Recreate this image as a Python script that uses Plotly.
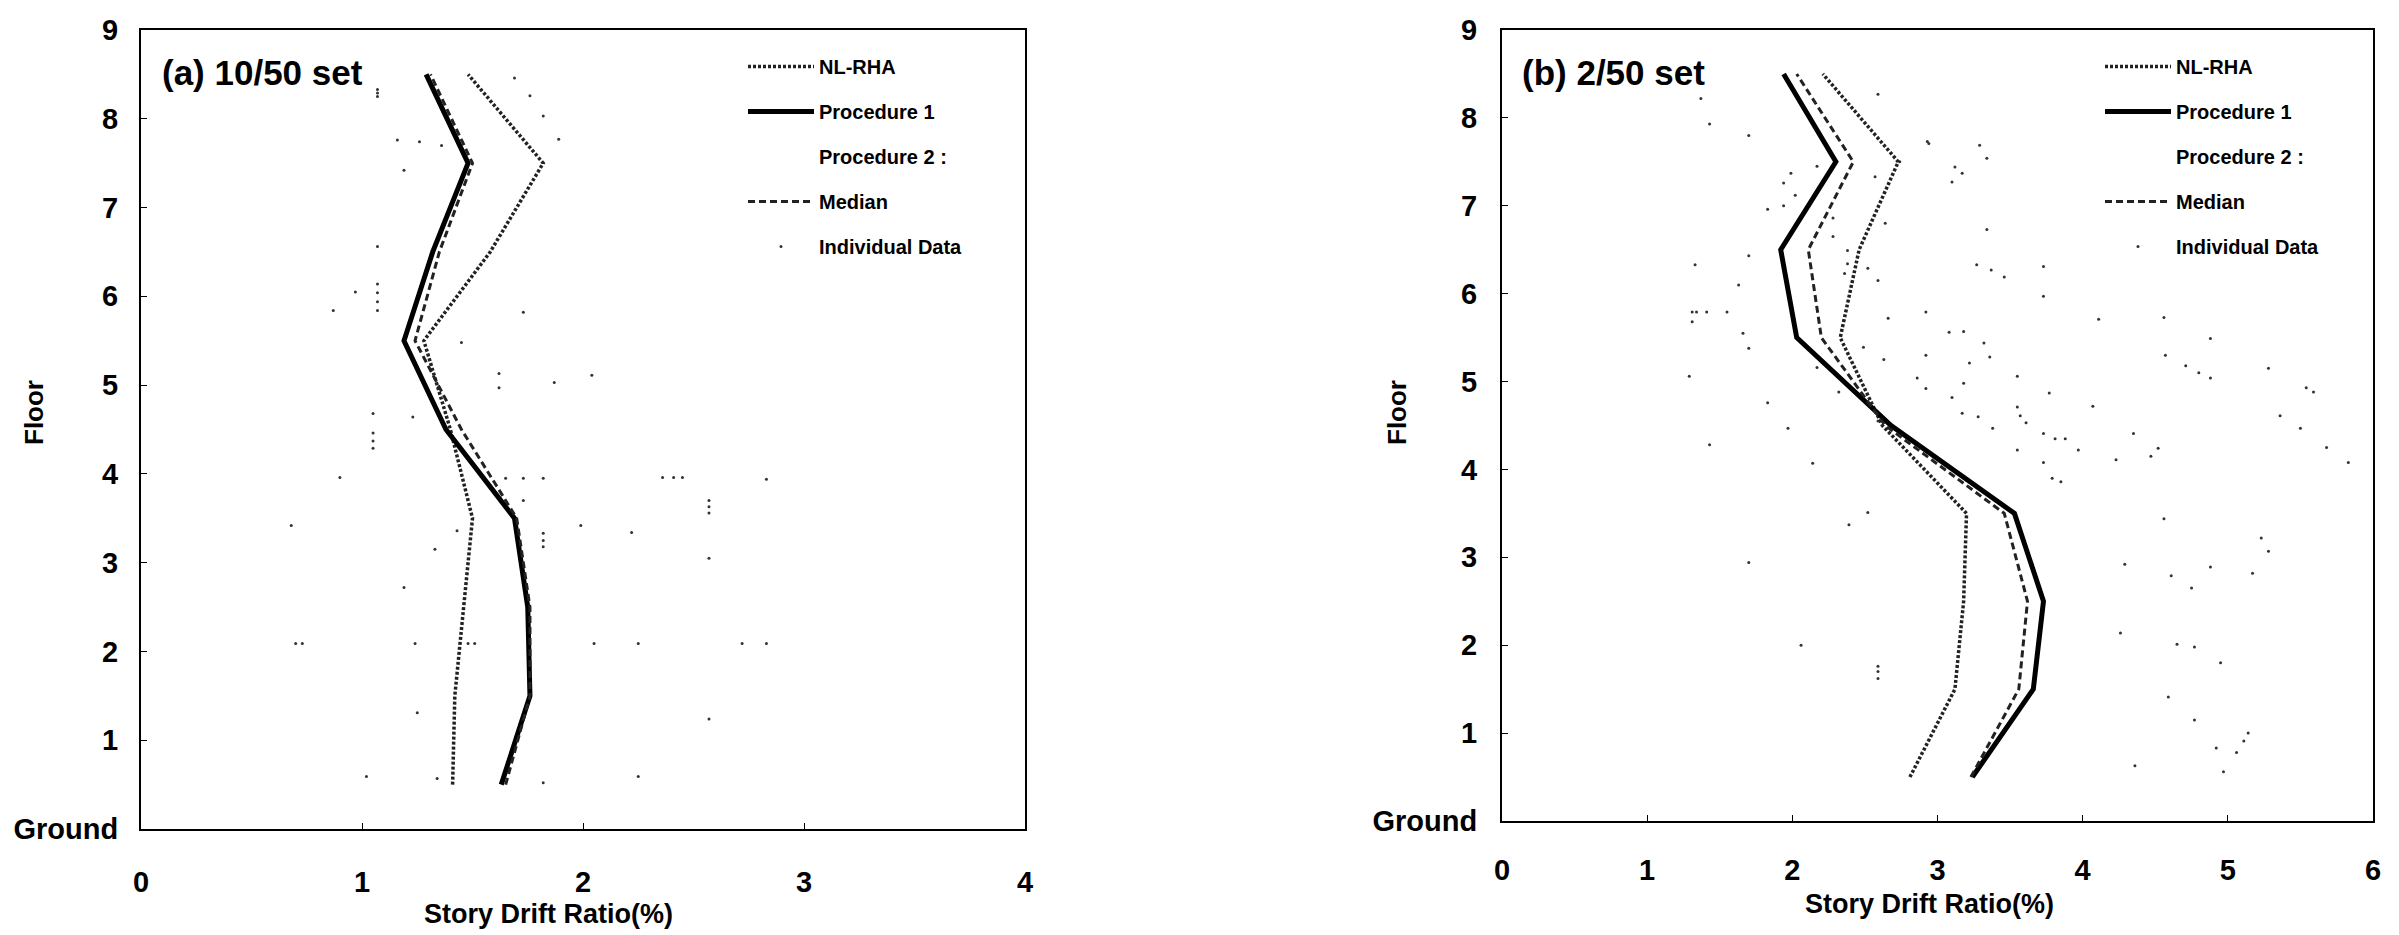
import plotly.graph_objects as go

# ---------------- data ----------------
floors = [0.5, 1.5, 2.5, 3.5, 4.5, 5.5, 6.5, 7.5, 8.5]

a_nlrha = [1.41, 1.42, 1.46, 1.50, 1.40, 1.28, 1.58, 1.82, 1.48]
a_proc1 = [1.63, 1.76, 1.75, 1.69, 1.38, 1.19, 1.32, 1.48, 1.29]
a_median = [1.65, 1.76, 1.76, 1.70, 1.45, 1.24, 1.35, 1.50, 1.31]

b_nlrha = [2.81, 3.12, 3.18, 3.20, 2.62, 2.33, 2.46, 2.73, 2.21]
b_proc1 = [3.24, 3.66, 3.73, 3.53, 2.68, 2.03, 1.92, 2.30, 1.94]
b_median = [3.23, 3.56, 3.62, 3.46, 2.64, 2.20, 2.11, 2.42, 2.03]

a_ind_x = [1.69, 1.76, 1.07, 1.07, 1.07, 1.82, 1.16, 1.26, 1.36, 1.89, 1.19, 1.07,
           1.07, 1.07, 1.07, 1.07, 0.97, 0.87, 1.73, 1.45, 1.62, 1.62, 1.87, 2.04,
           1.05, 1.23, 1.05, 1.05, 1.05, 0.90, 1.65, 1.73, 1.82, 1.73, 0.68, 1.43,
           1.99, 1.82, 1.82, 1.82, 1.33, 1.19, 0.70, 0.73, 1.24, 1.48, 1.51, 2.05,
           1.25, 1.02, 1.34, 1.82, 2.36, 2.41, 2.45, 2.83, 2.57, 2.57, 2.57, 2.57,
           2.22, 2.25, 2.72, 2.83, 2.57, 2.25]
a_ind_y = [8.46, 8.26, 8.33, 8.29, 8.25, 8.03, 7.76, 7.74, 7.70, 7.77, 7.42, 6.56,
           6.14, 6.04, 5.94, 5.84, 6.05, 5.84, 5.82, 5.48, 5.13, 4.97, 5.03, 5.11,
           4.68, 4.64, 4.46, 4.37, 4.29, 3.96, 3.95, 3.95, 3.95, 3.70, 3.42, 3.36,
           3.42, 3.33, 3.25, 3.18, 3.15, 2.72, 2.09, 2.09, 2.09, 2.09, 2.09, 2.09,
           1.31, 0.59, 0.57, 0.52, 3.96, 3.96, 3.96, 3.94, 3.70, 3.63, 3.56, 3.05,
           3.34, 2.09, 2.09, 2.09, 1.24, 0.59]

b_ind_x = [1.37, 1.43, 1.70, 2.59, 2.93, 2.17, 1.99, 1.94, 2.02, 1.83, 1.94, 2.57,
           2.28, 2.64, 2.28, 2.38, 1.70, 1.33, 2.38, 2.52, 2.59, 2.36, 1.63, 1.31,
           1.34, 1.41, 1.55, 1.31, 1.66, 1.70, 2.49, 2.63, 2.66, 2.92, 2.92, 2.86,
           2.92, 2.32, 2.17, 1.29, 1.83, 2.59, 1.97, 1.43, 2.14,
           2.94, 3.29, 3.34, 3.12, 3.17, 3.10, 2.74, 3.34, 3.27, 3.37, 3.46, 3.73,
           3.73, 4.11, 4.56, 3.08, 3.18, 3.32, 3.36, 3.22, 4.88, 4.57, 4.71, 4.80,
           4.88, 5.28, 3.18, 3.10, 3.55, 3.77, 4.07, 3.55, 3.57, 3.61, 3.17, 3.28,
           3.38, 5.54, 5.59, 5.36, 5.50, 3.73, 3.81, 3.88, 4.35, 3.55, 3.97, 4.23,
           4.47, 4.52, 5.68, 5.83, 3.73,
           3.79, 3.85, 4.56, 5.23, 5.28, 4.29, 4.88, 4.61, 5.17, 4.75, 4.26, 4.65,
           4.77, 4.95, 4.59, 4.77, 5.14, 5.11, 4.92, 5.06, 4.36, 4.97,
           1.70, 2.39, 2.52, 2.06, 2.59, 2.59, 2.59]
b_ind_y = [8.22, 7.93, 7.80, 8.27, 7.73, 7.45, 7.37, 7.26, 7.12, 6.96, 7.00, 7.33,
           6.86, 6.80, 6.65, 6.49, 6.43, 6.33, 6.34, 6.29, 6.15, 6.23, 6.10, 5.79,
           5.79, 5.79, 5.79, 5.68, 5.55, 5.38, 5.39, 5.25, 5.72, 5.79, 5.30, 5.04,
           4.92, 4.88, 5.16, 5.06, 4.76, 4.55, 4.47, 4.28, 4.07,
           7.71, 7.69, 7.54, 7.44, 7.37, 7.27, 7.50, 6.73, 6.33, 6.27, 6.19, 6.31,
           5.97, 5.71, 5.73, 5.56, 5.57, 5.44, 5.28, 5.21, 5.49, 5.30, 5.18, 5.10,
           5.04, 5.15, 4.98, 4.82, 5.06, 4.87, 4.72, 4.71, 4.61, 4.53, 4.64, 4.60,
           4.47, 4.93, 4.88, 4.61, 4.47, 4.41, 4.35, 4.35, 4.41, 4.22, 4.22, 4.11,
           4.15, 4.24, 4.25, 4.08, 4.08,
           3.90, 3.86, 3.44, 3.22, 3.07, 2.92, 2.89, 2.79, 2.82, 2.65, 2.14, 2.01,
           1.98, 1.80, 1.41, 1.15, 1.00, 0.91, 0.83, 0.78, 0.63, 0.56,
           2.94, 3.37, 3.51, 2.00, 1.76, 1.70, 1.62]

y_tickvals = [0, 1, 2, 3, 4, 5, 6, 7, 8, 9]
y_ticktext = ["Ground", "1", "2", "3", "4", "5", "6", "7", "8", "9"]
a_xticks = [0, 1, 2, 3, 4]
b_xticks = [0, 1, 2, 3, 4, 5, 6]

W, H = 2399, 935
FONT = "Liberation Sans, Arial, sans-serif"

fig = go.Figure()

def add_panel(xa, ya, legend, ind_x, ind_y, nl, p1, med):
    fig.add_trace(go.Scatter(x=ind_x, y=ind_y, mode="markers", name="Individual Data",
                             marker=dict(size=3, color="#333"), xaxis=xa, yaxis=ya,
                             legend=legend, legendrank=5, legendgroup=legend + "e"))
    fig.add_trace(go.Scatter(x=nl, y=floors, mode="lines", name="NL-RHA",
                             line=dict(color="#222", width=3.5, dash="3px,2px"),
                             xaxis=xa, yaxis=ya, legend=legend, legendrank=1,
                             legendgroup=legend + "a"))
    fig.add_trace(go.Scatter(x=p1, y=floors, mode="lines", name="Procedure 1",
                             line=dict(color="black", width=5),
                             xaxis=xa, yaxis=ya, legend=legend, legendrank=2,
                             legendgroup=legend + "b"))
    fig.add_trace(go.Scatter(x=[None], y=[None], mode="markers", name="Procedure 2 :",
                             marker=dict(size=1, color="rgba(0,0,0,0)"),
                             xaxis=xa, yaxis=ya, legend=legend, legendrank=3,
                             legendgroup=legend + "c"))
    fig.add_trace(go.Scatter(x=med, y=floors, mode="lines", name="Median",
                             line=dict(color="#222", width=3, dash="7px,4px"),
                             xaxis=xa, yaxis=ya, legend=legend, legendrank=4,
                             legendgroup=legend + "d"))

add_panel("x", "y", "legend", a_ind_x, a_ind_y, a_nlrha, a_proc1, a_median)
add_panel("x2", "y2", "legend2", b_ind_x, b_ind_y, b_nlrha, b_proc1, b_median)

def px_x(p):
    return p / W

def px_y(p):
    return 1 - p / H

axis_common = dict(showline=True, linecolor="black", linewidth=2, mirror=True,
                   ticks="inside", ticklen=6, tickcolor="black", showgrid=False,
                   zeroline=False, automargin=False,
                   tickfont=dict(family=FONT, size=29, color="black", weight="bold"))

legend_common = dict(xanchor="left", yanchor="top", bgcolor="rgba(0,0,0,0)",
                     itemwidth=66, tracegroupgap=16,
                     font=dict(family=FONT, size=20, color="black", weight="bold"))

fig.update_layout(
    width=W, height=H,
    margin=dict(l=0, r=0, t=0, b=0, pad=0, autoexpand=False),
    paper_bgcolor="white", plot_bgcolor="white",
    xaxis=dict(domain=[px_x(141), px_x(1025)], range=[0, 4], tickvals=a_xticks,
               anchor="y", ticklabelstandoff=26, **axis_common),
    yaxis=dict(domain=[px_y(829), px_y(30)], range=[0, 9], tickvals=y_tickvals,
               ticktext=y_ticktext, anchor="x", ticklabelstandoff=15, **axis_common),
    xaxis2=dict(domain=[px_x(1502), px_x(2373)], range=[0, 6], tickvals=b_xticks,
                anchor="y2", ticklabelstandoff=22, **axis_common),
    yaxis2=dict(domain=[px_y(821), px_y(30)], range=[0, 9], tickvals=y_tickvals,
                ticktext=y_ticktext, anchor="x2", ticklabelstandoff=17, **axis_common),
    legend=dict(x=px_x(743), y=px_y(47), **legend_common),
    legend2=dict(x=px_x(2100), y=px_y(47), **legend_common),
    showlegend=True,
)

def label(text, x, y, size, angle=0, anchor="left"):
    fig.add_annotation(text=text, xref="paper", yref="paper", x=px_x(x), y=px_y(y),
                       xanchor=anchor, yanchor="middle", showarrow=False,
                       textangle=angle,
                       font=dict(family=FONT, size=size, color="black", weight="bold"))

label("(a) 10/50 set", 160, 72, 35)
label("(b) 2/50 set", 1520, 72, 35)
label("Story Drift Ratio(%)", 548, 914, 27, anchor="center")
label("Story Drift Ratio(%)", 1929, 904, 27, anchor="center")
label("Floor", 34, 413, 26, angle=-90, anchor="center")
label("Floor", 1397, 413, 26, angle=-90, anchor="center")

fig.write_html("out.html")
